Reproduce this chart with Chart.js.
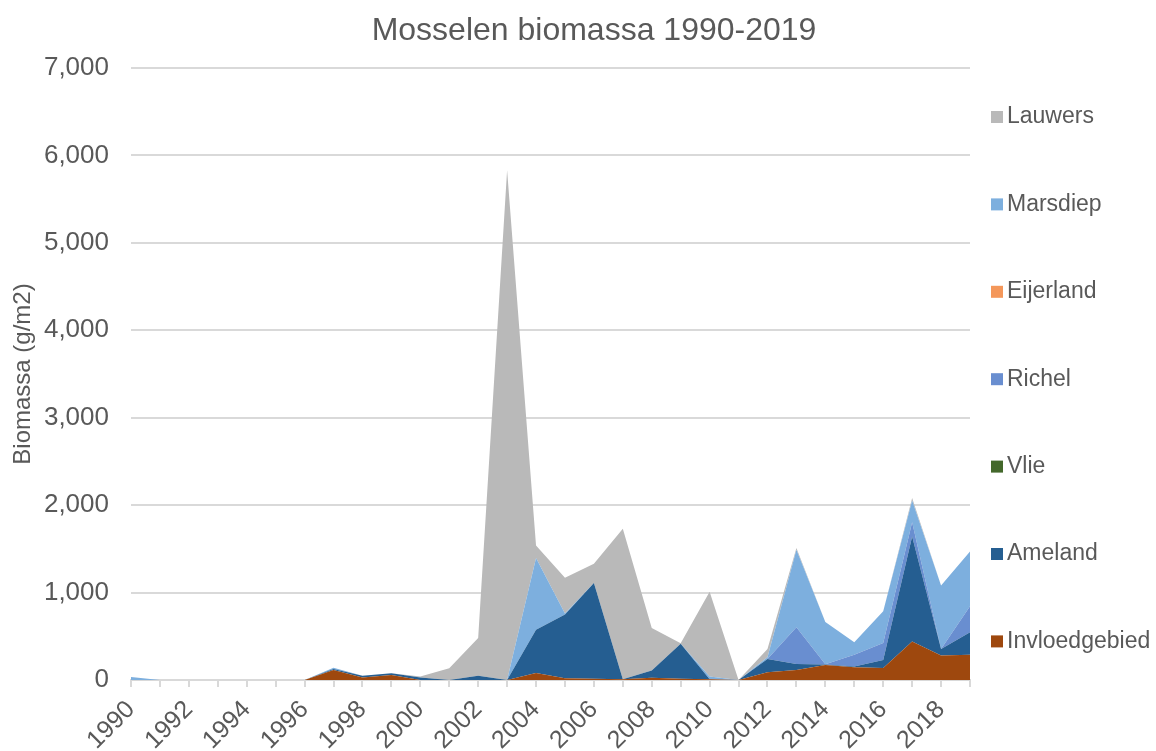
<!DOCTYPE html>
<html>
<head>
<meta charset="utf-8">
<title>Mosselen biomassa 1990-2019</title>
<script src="https://cdn.jsdelivr.net/npm/chart.js@4.4.1/dist/chart.umd.min.js"></script>
<style>
  html, body { margin:0; padding:0; background:#fff; }
  #wrap { width:1156px; height:751px; }
</style>
</head>
<body>
<div id="wrap"><canvas id="grafiek"></canvas></div>
<script>
// jaren 1990-2019
const jaren = ["1990","1991","1992","1993","1994","1995","1996","1997","1998","1999",
  "2000","2001","2002","2003","2004","2005","2006","2007","2008","2009",
  "2010","2011","2012","2013","2014","2015","2016","2017","2018","2019"];

// biomassa (g/m2) per gebied
const invloedgebied = [0,0,0,0,0,0,0,115,30,58, 0,0,0,0,80,20,15,10,25,15, 10,0,90,115,172,145,137,440,280,290];
const ameland       = [0,0,0,0,0,0,0,10,20,20, 30,0,50,0,494,730,1095,0,85,400, 0,0,150,68,4,10,92,1200,75,256];
const vlie          = [0,0,0,0,0,0,0,0,0,0, 0,0,0,0,0,0,0,0,0,0, 0,0,0,0,0,0,0,0,0,0];
const richel        = [0,0,0,0,0,0,0,0,0,0, 0,0,0,0,0,0,0,0,0,0, 0,0,0,420,4,135,195,164,0,298];
const eijerland     = [0,0,0,0,0,0,0,0,0,0, 0,0,0,0,0,0,0,0,0,0, 0,0,0,0,0,0,0,0,0,0];
const marsdiep      = [35,0,0,0,0,0,0,15,0,0, 0,0,0,0,820,10,0,0,0,0, 30,0,20,887,484,141,362,248,725,626];
const lauwers       = [0,0,0,0,0,0,0,0,0,0, 10,135,430,5830,145,410,220,1720,485,5, 970,0,95,20,0,0,0,30,0,0];

const yTicks = [0,1000,2000,3000,4000,5000,6000,7000];
const titel = "Mosselen biomassa 1990-2019";

const series = [
  { label:"Invloedgebied", data:invloedgebied, kleur:"#9E480E" },
  { label:"Ameland",       data:ameland,       kleur:"#255E91" },
  { label:"Vlie",          data:vlie,          kleur:"#43682B" },
  { label:"Richel",        data:richel,        kleur:"#698ED0" },
  { label:"Eijerland",     data:eijerland,     kleur:"#F4975A" },
  { label:"Marsdiep",      data:marsdiep,      kleur:"#7DAFDE" },
  { label:"Lauwers",       data:lauwers,       kleur:"#B9B9B9" }
];

const FONT = "'Liberation Sans', Arial, sans-serif";
const TXT = "#595959";

// titel + legenda zelf getekend zodat de posities kloppen
const legendaPlugin = {
  id: "legenda",
  afterDraw(chart) {
    const ctx = chart.ctx;
    ctx.save();
    ctx.fillStyle = TXT;
    ctx.font = "32px " + FONT;
    ctx.textAlign = "center";
    ctx.textBaseline = "middle";
    ctx.fillText(titel, 594, 31);

    const sets = chart.data.datasets.slice().reverse();
    ctx.font = "23px " + FONT;
    ctx.textAlign = "left";
    sets.forEach((ds, i) => {
      const y = 117 + i * 87.4;
      ctx.fillStyle = ds.backgroundColor;
      ctx.fillRect(991, y - 6, 12, 12);
      ctx.fillStyle = TXT;
      ctx.fillText(ds.label, 1007, y);
    });
    ctx.restore();
  }
};

const ctx = document.getElementById("grafiek").getContext("2d");
new Chart(ctx, {
  type: "line",
  data: {
    labels: jaren,
    datasets: series.map((s, i) => ({
      label: s.label,
      data: s.data,
      backgroundColor: s.kleur,
      borderColor: s.kleur,
      borderWidth: 0,
      pointRadius: 0,
      tension: 0,
      fill: i === 0 ? "origin" : "-1"
    }))
  },
  options: {
    responsive: true,
    maintainAspectRatio: false,
    animation: false,
    layout: { padding: { left: 0, right: 186, top: 68, bottom: 0 } },
    plugins: {
      legend: { display: false },
      tooltip: { enabled: false },
      title: { display: false }
    },
    scales: {
      x: {
        offset: false,
        grid: { display: true, drawOnChartArea: false, drawTicks: true, tickLength: 7, color: "#d9d9d9", lineWidth: 2 },
        border: { display: true, color: "#d9d9d9", width: 2 },
        ticks: {
          autoSkip: false,
          maxRotation: 45,
          minRotation: 45,
          padding: 8,
          color: TXT,
          font: { family: FONT, size: 25 },
          callback: (v, i) => (i % 2 === 0 ? jaren[i] : "")
        },
        afterFit: s => { s.height = 71; }
      },
      y: {
        stacked: true,
        min: 0,
        max: 7000,
        afterBuildTicks: s => { s.ticks = yTicks.map(v => ({ value: v })); },
        grid: { color: "#d9d9d9", lineWidth: 2, drawTicks: false },
        border: { display: false },
        ticks: {
          padding: 22,
          color: TXT,
          font: { family: FONT, size: 26 },
          callback: v => Number(v).toLocaleString("en-US")
        },
        title: {
          display: true,
          text: "Biomassa (g/m2)",
          color: TXT,
          font: { family: FONT, size: 24 },
          padding: { top: 9, bottom: 0 }
        },
        afterFit: s => { s.width = 131; }
      }
    }
  },
  plugins: [legendaPlugin]
});
</script>
</body>
</html>
